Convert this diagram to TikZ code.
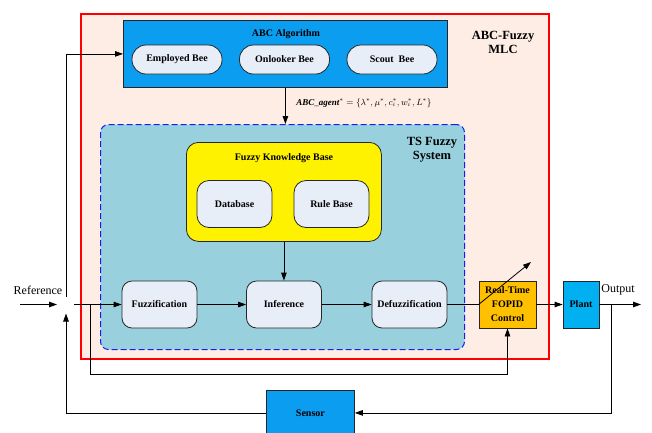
\documentclass[tikz,border=0pt]{standalone}
\usepackage{amsmath}
\usepackage{fontspec}
\setmainfont{Liberation Serif}
\usetikzlibrary{arrows.meta}
\definecolor{peach}{RGB}{253,237,228}
\definecolor{abcblue}{RGB}{10,157,240}
\definecolor{plantblue}{RGB}{0,176,240}
\definecolor{pillfill}{RGB}{232,238,248}
\definecolor{tsfill}{RGB}{153,208,221}
\definecolor{fopidfill}{RGB}{255,192,0}
\definecolor{dashblue}{RGB}{20,30,240}
\begin{document}
\begin{tikzpicture}[x=1pt,y=-1pt,
  lbl/.style={font=\bfseries\fontsize{10}{13}\selectfont, align=center, inner sep=0pt},
  big/.style={font=\bfseries\fontsize{12.5}{14}\selectfont, align=center, inner sep=0pt},
  plain/.style={font=\fontsize{12}{14}\selectfont, inner sep=0pt},
  box/.style={draw=black!85, line width=0.8pt, inner sep=0pt, lbl},
  pill/.style={box, fill=pillfill, rounded corners=14pt, minimum width=90pt, minimum height=29pt},
  proc/.style={box, fill=pillfill, rounded corners=10pt, minimum width=75pt, minimum height=47pt},
  arr/.style={-{Triangle[length=8pt,width=5.5pt]}, line width=0.8pt},
  ln/.style={line width=0.8pt}
]
\useasboundingbox (0,0) rectangle (652,432);

% outer red box
\node[draw=red, line width=2pt, fill=peach, minimum width=468pt, minimum height=345pt, anchor=north west, inner sep=0pt] (mlc) at (80,13) {};
\node[big] (mlclbl) at (503,42) {ABC-Fuzzy\\MLC};

% ABC algorithm
\node[box, fill=abcblue, minimum width=324pt, minimum height=67pt, anchor=north west] (abc) at (123,20) {};
\node[lbl] (abclbl) at (286,34) {ABC Algorithm};
\node[pill] (emp) at (177,59.5) {Employed Bee};
\node[pill] (onl) at (284.5,59.5) {Onlooker Bee};
\node[pill] (sco) at (392,59.5) {Scout\ \ Bee};

\node[inner sep=0pt, font=\fontsize{9}{10}\selectfont] (agent) at (364,103)
  {$\boldsymbol{\mathit{ABC\_agent}}^{*}=\{\lambda^{*},\mu^{*},c_i^{*},w_i^{*},L^{*}\}$};

% TS fuzzy system
\node[draw=dashblue, dashed, dash pattern=on 6pt off 3pt, line width=1pt, fill=tsfill, rounded corners=8pt,
  minimum width=364pt, minimum height=225pt, anchor=north west, inner sep=0pt] (ts) at (100,124) {};
\node[big] (tslbl) at (432,150) {TS Fuzzy\\System};

% fuzzy knowledge base
\node[box, fill=yellow, rounded corners=12pt, minimum width=195pt, minimum height=99pt, anchor=north west] (fkb) at (186,142) {};
\node[lbl] (fkblbl) at (284,158) {Fuzzy Knowledge Base};
\node[box, fill=pillfill, rounded corners=12pt, minimum width=75pt, minimum height=47pt] (db) at (234.5,204) {Database};
\node[box, fill=pillfill, rounded corners=12pt, minimum width=75pt, minimum height=47pt] (rb) at (331.5,204) {Rule Base};

% processing chain
\node[proc] (fuzz) at (159.5,304.5) {Fuzzification};
\node[proc] (inf) at (284,304.5) {Inference};
\node[proc] (defz) at (409.5,304.5) {Defuzzification};

\node[box, fill=fopidfill, minimum width=57pt, minimum height=47pt, font=\bfseries\fontsize{10}{14}\selectfont] (fopid) at (507.5,304.5) {Real-Time\\FOPID\\Control};
\node[box, fill=plantblue, minimum width=36pt, minimum height=47pt] (plant) at (581,304.5) {Plant};
\node[box, fill=abcblue, minimum width=88pt, minimum height=45pt, anchor=north west] (sensor) at (266,390) {Sensor};

\node[plain] (reflbl) at (38,290) {Reference};
\node[plain] (outlbl) at (618,290) {Output};

% coordinates
\coordinate (sum) at (66,304.5);
\coordinate (refin) at (20,304.5);
\coordinate (br) at (90,304.5);
\coordinate (brlow) at (90,374);
\coordinate (outend) at (641,304.5);
\coordinate (tap) at (611,304.5);
\coordinate (tune) at (531,262);

% connectors
\draw[arr] (refin) -- ([xshift=-9pt]sum);
\draw[arr] ([xshift=8pt]sum) -- (fuzz.west);
\draw[arr] ([yshift=8pt]sum) |- (abc.west);
\draw[arr] (abc.south) -- (abc.south |- ts.north);
\draw[arr] (fkb.south) -- (fkb.south |- inf.north);
\draw[arr] (fuzz) -- (inf);
\draw[arr] (inf) -- (defz);
\draw[ln] (defz.east) -- (fopid.west);
\draw[arr] (fopid.west) -- (tune);
\draw[arr] (fopid) -- (plant);
\draw[arr] (plant.east) -- (outend);
\draw[arr] (br) -- (brlow) -| (fopid.south);
\draw[arr] (tap) |- (sensor.east);
\draw[arr] (sensor.west) -| ([yshift=-9pt]sum);
\end{tikzpicture}
\end{document}
